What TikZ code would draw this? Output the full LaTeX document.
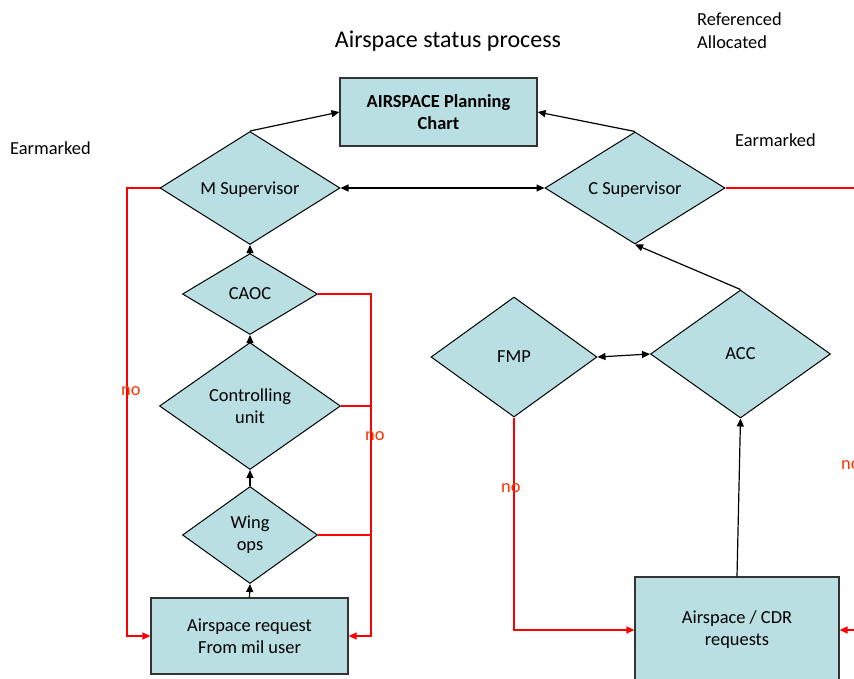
\documentclass[tikz,border=0pt]{standalone}
\usepackage{fontspec}
\setmainfont{Carlito}
\usetikzlibrary{shapes.geometric,arrows.meta}
\definecolor{boxfill}{RGB}{185,223,226}
\definecolor{nored}{RGB}{255,51,0}
\definecolor{linered}{RGB}{255,0,0}
\begin{document}
\begin{tikzpicture}[x=1pt,y=-1pt,
  font=\fontsize{18.4}{22}\selectfont,
  dia/.style={diamond, draw=black, fill=boxfill, line width=1pt, inner sep=0pt, align=center},
  onel/.style={text depth=0pt},
  rbox/.style={rectangle, draw=black!80, fill=boxfill, line width=1.2pt, inner sep=0pt, align=center},
  tip/.style={-{Triangle[length=8pt,width=7pt]}},
  blk/.style={draw=black, line width=1.2pt, tip},
  blk2/.style={draw=black, line width=1.2pt, {Triangle[length=8pt,width=7pt]}-{Triangle[length=8pt,width=7pt]}},
  redl/.style={draw=linered, line width=1.5pt},
  reda/.style={redl, tip},
  lbl/.style={inner sep=0pt, anchor=base west},
  nolbl/.style={text=nored, inner sep=0pt, anchor=base west}
]
\useasboundingbox (0,0) rectangle (854,678);
\clip (0,0) rectangle (854,678);
\fill[white] (0,0) rectangle (854,678);

% texts
\node[inner sep=0pt, anchor=base, font=\fontsize{24}{28}\selectfont] (title) at (448,47) {Airspace status process};
\node[lbl] (ref) at (697,25) {Referenced};
\node[lbl] (alloc) at (697,48) {Allocated};
\node[lbl] (earmR) at (735,146) {Earmarked};
\node[lbl] (earmL) at (10,154) {Earmarked};

% nodes
\node[rbox, minimum width=197pt, minimum height=68pt, font=\fontsize{18.4}{22}\selectfont\bfseries] (chart) at (438.5,112) {AIRSPACE Planning\\Chart};
\node[dia, onel, minimum width=180pt, minimum height=113pt, aspect=1.6] (msup) at (250,188) {M Supervisor};
\node[dia, onel, minimum width=180pt, minimum height=112pt, aspect=1.6] (csup) at (635,188) {C Supervisor};
\node[dia, onel, minimum width=135pt, minimum height=81pt, aspect=1.67] (caoc) at (250,294) {CAOC};
\node[dia, minimum width=181pt, minimum height=127pt, aspect=1.43] (cu) at (250,406) {Controlling\\unit};
\node[dia, minimum width=135pt, minimum height=97pt, aspect=1.39] (wing) at (250,535) {Wing\\ops};
\node[rbox, minimum width=197pt, minimum height=76pt] (req) at (249.5,636) {Airspace request\\From mil user};
\node[dia, onel, minimum width=180pt, minimum height=128pt, aspect=1.4] (acc) at (740.5,354) {ACC};
\node[dia, onel, minimum width=166pt, minimum height=120pt, aspect=1.38] (fmp) at (514,357) {FMP};
\node[rbox, minimum width=204pt, minimum height=106pt] (cdr) at (737,630) {Airspace / CDR\\requests};

% helper coordinates
\coordinate (lbus) at (127,0);
\coordinate (rbus) at (371,0);
\coordinate (redge) at (880,0);

% black connectors
\draw[blk] (req.north) -- (wing.south);
\draw[blk] (wing.north) -- (cu.south);
\draw[blk] (cu.north) -- (caoc.south);
\draw[blk] (caoc.north) -- (msup.south);
\draw[blk] (msup.north) -- (chart.west);
\draw[blk] (csup.north) -- (chart.east);
\draw[blk2] (msup.east) -- (csup.west);
\draw[blk] (acc.north) -- (csup.south);
\draw[blk2] (fmp.east) -- (acc.west);
\draw[blk] (cdr.north) -- (acc.south);

% red connectors
\draw[reda] (msup.west) -| (lbus |- req.west) -- (req.west);
\draw[reda] (caoc.east) -| (rbus |- req.east) -- (req.east);
\draw[redl] (cu.east) -- (cu.east -| rbus);
\draw[redl] (wing.east) -- (wing.east -| rbus);
\draw[reda] (fmp.south) |- (cdr.west);
\draw[redl] (csup.east) -- (csup.east -| redge);
\draw[reda] (cdr.east -| redge) -- (cdr.east);

% no labels
\node[nolbl] (no1) at (121,395) {no};
\node[nolbl] (no2) at (365,440) {no};
\node[nolbl] (no3) at (501,492) {no};
\node[nolbl] (no4) at (841,469) {no};
\end{tikzpicture}
\end{document}
